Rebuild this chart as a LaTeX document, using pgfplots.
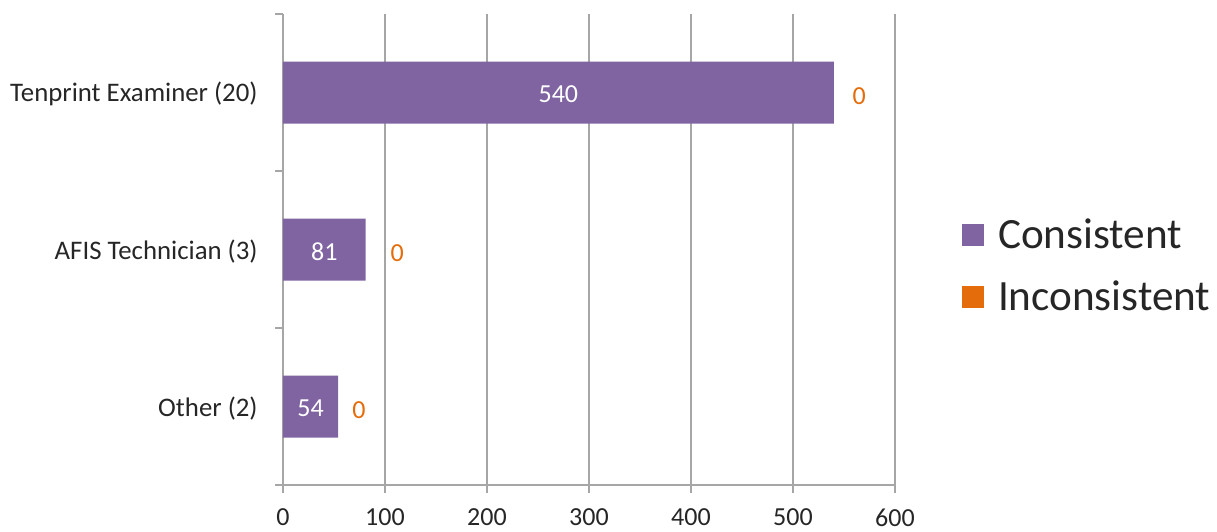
\documentclass[border=0pt]{standalone}
\usepackage{fontspec}
\setmainfont{Carlito}
\usepackage{pgfplots}
\usepackage{pgfplotstable}
\pgfplotsset{compat=1.18}
\definecolor{cpurple}{HTML}{8064A2}
\definecolor{corange}{HTML}{E46C0A}
\definecolor{gridgray}{HTML}{A6A6A6}
\definecolor{txt}{HTML}{262626}

\pgfplotstableread{
y cons incon lx
0 540 0 565
1 81 0 112
2 54 0 74.5
}\data

\begin{document}
\begin{tikzpicture}
\begin{axis}[
  name=ax,
  scale only axis,
  width=306pt, height=235.5pt,
  xmin=0, xmax=600,
  ymin=-0.5, ymax=2.5,
  y dir=reverse,
  axis x line*=bottom, axis y line*=left,
  axis line style={-, gridgray, line width=0.75pt},
  xtick={0,100,...,600},
  xmajorgrids,
  major grid style={gridgray, line width=0.75pt},
  tick align=outside,
  major tick length=4pt,
  every tick/.style={gridgray, line width=0.75pt},
  ytick={-0.5,0.5,1.5,2.5},
  yticklabels={},
  extra y ticks={0,1,2},
  extra y tick labels={Tenprint Examiner (20),AFIS Technician (3),Other (2)},
  extra y tick style={major tick length=0pt, grid=none,
     yticklabel style={anchor=east, inner sep=0pt, xshift=-12.5pt, yshift=-0.8pt,
       font=\fontsize{13.4}{16}\selectfont}},
  /pgf/number format/assume math mode=true,
  ticklabel style={font=\fontsize{13}{15.6}\selectfont, text=txt},
  xticklabel style={anchor=center, inner sep=0pt, yshift=-12.3pt},
  legend style={at={(1.1095,0.465)}, anchor=west, draw=none, fill=none,
     inner sep=0pt, outer sep=0pt, row sep=17pt, column sep=7pt,
     font=\fontsize{21.6}{26}\selectfont, text=txt,
     nodes={inner sep=0pt, text height=14pt, text depth=0pt},
     cells={anchor=west}},
  legend image code/.code={\fill[#1] (0pt,-5.5pt) rectangle (11pt,5.5pt);},
  clip=false,
]
\addplot[xbar, bar width=0.395, bar shift=0pt, fill=cpurple, draw=none]
  table[x=cons, y=y]{\data};
\addlegendentry{Consistent}
\addlegendimage{fill=corange, draw=none}
\addlegendentry{Inconsistent}
\addplot[draw=none, mark=none, forget plot, nodes near coords, point meta=explicit,
  nodes near coords style={anchor=center, inner sep=0pt, text=white, yshift=-1pt,
     font=\fontsize{13}{15.6}\selectfont, /pgf/number format/assume math mode=true}]
  table[x expr=\thisrow{cons}/2, y=y, meta=cons]{\data};
\addplot[draw=none, mark=none, forget plot, nodes near coords, point meta=explicit,
  nodes near coords style={anchor=center, inner sep=0pt, text=corange, yshift=-2pt,
     font=\fontsize{13}{15.6}\selectfont, /pgf/number format/assume math mode=true}]
  table[x=lx, y=y, meta=incon]{\data};
\end{axis}
\pgfresetboundingbox
\path[use as bounding box] (ax.south west) ++(-141.5pt,-23pt) rectangle ++(608.5pt,265.5pt);
\end{tikzpicture}
\end{document}
